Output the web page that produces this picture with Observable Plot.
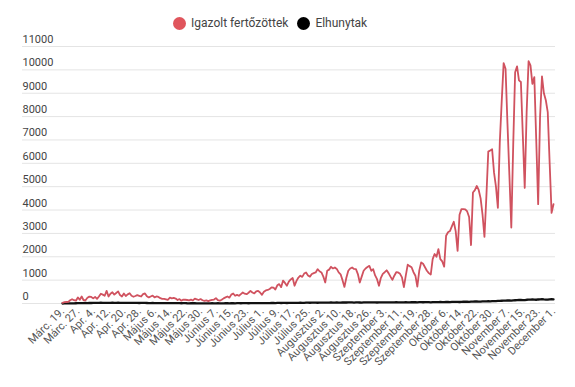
<!DOCTYPE html>
<html>
<head>
<meta charset="utf-8">
<script src="https://cdn.jsdelivr.net/npm/d3@7"></script>
<script src="https://cdn.jsdelivr.net/npm/@observablehq/plot@0.6"></script>
<style>
  body { margin: 0; background: #fff; font-family: Roboto, "Noto Sans", sans-serif; }
  #wrap { position: relative; width: 575px; height: 387px; }
  #legend { position: absolute; top: 15px; left: 173px; display: flex; align-items: center; height: 16px; font-size: 12px; color: #444; }
  .sw { width: 13px; height: 13px; border-radius: 50%; display: inline-block; margin-right: 5px; }
  .item { display: flex; align-items: center; margin-right: 9px; }
</style>
</head>
<body>
<div id="wrap">
  <div id="chart"></div>
  <div id="legend">
    <span class="item"><span class="sw" style="background:#e0555c"></span>Igazolt fertőzöttek</span>
    <span class="item"><span class="sw" style="background:#000"></span>Elhunytak</span>
  </div>
</div>
<script>
const tickLabels = [
  "Márc. 19.", "Márc. 27.", "Apr. 4.", "Apr. 12.", "Apr. 20.", "Apr. 28.",
  "Május 6.", "Május 14.", "Május 22.", "Május 30.", "Június 7.", "Június 15.",
  "Június 23.", "Július 1.", "Július 9.", "Július 17.", "Július 25.",
  "Augusztus 2.", "Augusztus 10.", "Augusztus 18.", "Augusztus 26.",
  "Szeptember 3.", "Szeptember 11.", "Szeptember 19.", "Szeptember 28.",
  "Október 6.", "Október 14.", "Október 22.", "Október 30.",
  "November 7.", "November 15.", "November 23.", "December 1."
];

const cases = [
  30,55,65,70,140,185,140,120,260,160,
  300,140,140,245,295,280,220,280,200,300,
  420,380,330,540,300,420,480,380,450,520,
  360,300,430,320,390,440,330,290,320,360,
  330,300,400,430,310,260,300,340,260,300,
  280,230,200,200,180,160,250,220,240,210,
  150,190,120,170,160,150,135,165,130,210,
  180,150,190,140,110,135,100,130,150,170,
  230,140,120,160,220,260,300,250,380,430,
  330,370,330,400,470,420,400,460,540,470,
  430,520,540,470,370,500,560,580,620,690,
  680,600,780,830,700,980,880,760,940,1030,
  1090,760,970,1110,1190,1140,1280,1330,1200,1150,
  1260,1300,1330,1470,1380,1330,1150,900,1400,1450,
  1570,1500,1540,1480,1330,1250,1000,710,1100,1400,
  1500,1540,1480,1470,1260,900,1150,1400,1500,1560,
  1610,1400,1470,1200,1040,760,1100,1270,1340,1420,
  1300,1150,1010,1190,1340,1330,1270,1120,700,1200,
  1660,1600,1550,1340,1190,720,1400,1760,1700,1550,
  1400,1300,1240,1900,2120,2000,2330,1900,1800,1580,
  2900,3050,3100,3300,3500,3100,2250,3800,4040,4040,
  4030,3940,3700,2500,4750,4850,5030,4860,4500,3800,
  2850,4580,6500,6550,6600,5600,5000,4090,6900,8650,
  10290,10050,7700,5500,3250,6800,9900,10150,9550,9480,
  7200,4950,8200,10370,10190,9400,9690,7000,4250,8000,
  9720,9000,8700,8190,6000,3880,4250
];

const deaths = [
  1,2,3,5,4,6,8,10,12,15,18,20,22,
  20,25,22,26,25,28,30,32,31,28,27,25,30,35,28,30,32,29,25,27,30,28,26,24,27,30,28,22,25,26,
  24,22,20,18,21,19,17,18,20,16,15,14,13,16,18,15,12,14,13,11,12,14,10,9,11,12,10,8,9,7,8,
  8,9,7,6,10,8,9,11,7,6,8,10,12,9,11,10,8,12,14,11,13,15,12,10,14,16,13,15,17,18,
  16,18,20,19,17,21,22,20,24,23,22,26,25,21,27,28,30,25,29,31,33,30,28,34,35,32,36,38,35,33,37,
  36,34,38,40,37,42,39,41,44,40,38,43,45,42,46,48,44,41,45,47,43,40,46,49,47,44,48,50,46,43,49,
  50,48,45,52,49,47,44,51,53,50,48,46,52,55,51,49,54,56,53,
  50,55,57,54,58,60,56,52,59,61,
  58,62,65,60,57,64,66,63,68,70,72,67,65,73,75,78,74,70,80,82,85,88,84,80,90,92,95,98,94,100,104,
  105,110,112,118,120,125,130,128,122,135,140,145,150,155,148,142,160,165,170,175,168,160,172,178,182,175,170,165,180,185,
  175
];

const yTicks = [0,1000,2000,3000,4000,5000,6000,7000,8000,9000,10000,11000];
const xTicks = tickLabels.map((_, k) => k * 8);

const data = cases.map((v, i) => ({ i, cases: v, deaths: deaths[i] }));

const chart = Plot.plot({
  width: 575,
  height: 387,
  marginTop: 46,
  marginBottom: 84,
  marginLeft: 22,
  marginRight: 20,
  x: { domain: [0, cases.length - 1], range: [62, 553], label: null },
  y: { domain: [0, 11000], axis: null },
  style: { fontFamily: "Roboto, 'Noto Sans', sans-serif", background: "#fff", color: "#555" },
  marks: [
    Plot.ruleY(yTicks, { stroke: "#e4e4e4", strokeWidth: 1 }),
    Plot.text(yTicks, { y: d => d, text: d => String(d), frameAnchor: "left", textAnchor: "start", dy: -7, fontSize: 11, fill: "#444" }),
    Plot.lineY(data, { x: "i", y: "deaths", stroke: "#111", strokeWidth: 2.3 }),
    Plot.lineY(data, { x: "i", y: "cases", stroke: "#d0525f", strokeWidth: 1.8 }),
    Plot.axisX(xTicks, { tickFormat: d => tickLabels[d / 8], tickRotate: -45, tickSize: 0, tickPadding: 6, fontSize: 11, fill: "#555", label: null })
  ]
});
document.getElementById("chart").appendChild(chart);
</script>
</body>
</html>
